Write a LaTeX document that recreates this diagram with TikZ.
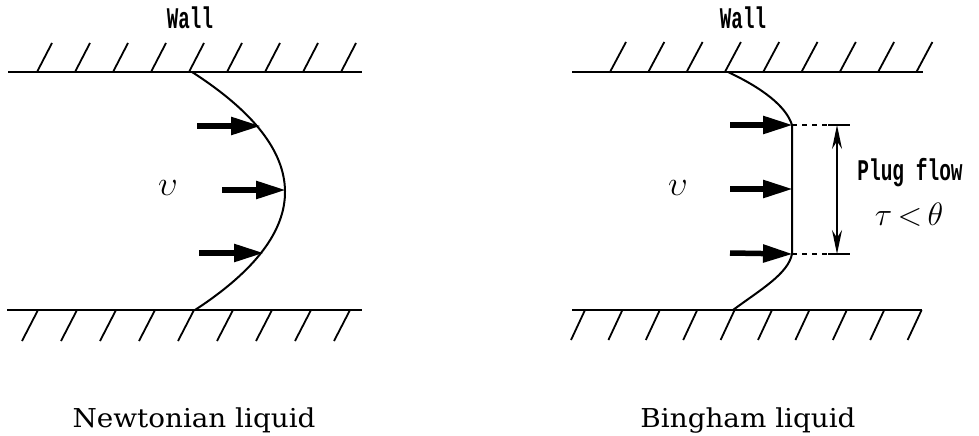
\documentclass[tikz,border=0pt]{standalone}
\usepackage{fontspec}
\usepackage{graphicx}
\usetikzlibrary{arrows.meta}
\newfontfamily\capfont{DejaVu Serif}
\newfontfamily\labfont{Liberation Mono}
\tikzset{
  wall/.style={line width=2.5pt},
  hatch/.style={line width=1.8pt},
  profile/.style={line width=2pt},
  flowarrow/.style={line width=5.5pt, -{Triangle[length=30pt,width=17pt]}, shorten >=-1pt},
  plugarrow/.style={line width=1.5pt, {Stealth[length=24pt,width=10pt]}-{Stealth[length=24pt,width=10pt]}},
  guide/.style={line width=1.5pt, dash pattern=on 5pt off 5pt},
  caption/.style={font=\capfont\fontsize{26}{30}\selectfont, inner sep=0pt, anchor=base},
  monolabel/.style={font=\labfont\bfseries\fontsize{30}{34}\selectfont, inner sep=0pt, anchor=base},
  mathlabel/.style={font=\fontsize{24.88}{30}\selectfont, inner sep=0pt, anchor=base},
}
\begin{document}
\begin{tikzpicture}[x=1pt,y=-1pt]
\useasboundingbox (0,0) rectangle (979,436);
% ---------------- Newtonian ----------------
\coordinate (LTl) at (8,72);  \coordinate (LTr) at (362,72);
\coordinate (LBl) at (7,310); \coordinate (LBr) at (362,310);
\draw[wall] (LTl) -- (LTr);
\draw[wall] (LBl) -- (LBr);
\foreach \i in {0,...,8} \draw[hatch] (37+38*\i,72) -- ++(15,-29);
\foreach \i in {0,...,8} \draw[hatch] (38+39*\i,310) -- ++(-16,31);
\coordinate (NA) at (192,72);
\coordinate (NB) at (195,310);
\draw[profile] (NA) .. controls (315,151) and (316,231) .. (NB);
\coordinate (n1s) at (197,126); \coordinate (n1e) at (260,126);
\coordinate (n2s) at (222,190); \coordinate (n2e) at (285,190);
\coordinate (n3s) at (199,253); \coordinate (n3e) at (263,253);
\draw[flowarrow] (n1s) -- (n1e);
\draw[flowarrow] (n2s) -- (n2e);
\draw[flowarrow] (n3s) -- (n3e);
\node[monolabel] (wallL) at (190,29) {\scalebox{0.64}[1]{Wall}};
\node[mathlabel] (vL) at (168,195) {\scalebox{1.4}{$\upsilon$}};
\node[caption] (capL) at (194,427) {\scalebox{1.07}[1]{Newtonian liquid}};
% ---------------- Bingham ----------------
\coordinate (RTl) at (572,72);  \coordinate (RTr) at (923,72);
\coordinate (RBl) at (572,310); \coordinate (RBr) at (922,310);
\draw[wall] (RTl) -- (RTr);
\draw[wall] (RBl) -- (RBr);
\foreach \i in {0,...,8} \draw[hatch] (610+38.3*\i,72) -- ++(16,-30);
\foreach \i in {0,...,9} \draw[hatch] (585+37.4*\i,310) -- ++(-14,30);
\coordinate (BA) at (728,72);
\coordinate (P1) at (792,125);
\coordinate (P2) at (792,254);
\coordinate (BB) at (733,310);
\draw[profile] (BA) .. controls (762,88) and (786,106) .. (P1) -- (P2)
  .. controls (788,274) and (760,290) .. (BB);
\coordinate (b1s) at (730,125); \coordinate (b2s) at (730,189); \coordinate (b3s) at (730,253);
\coordinate (b2e) at (792,189);
\draw[flowarrow] (b1s) -- (P1);
\draw[flowarrow] (b2s) -- (b2e);
\draw[flowarrow] (b3s) -- (P2);
\coordinate (D1) at (850,125); \coordinate (D2) at (850,254);
\coordinate (A1) at (837,125); \coordinate (A2) at (837,254);
\draw[guide] (P1) -- (D1);
\draw[guide] (P2) -- (D2);
\draw[line width=1.5pt] (828,125) -- (D1);
\draw[line width=1.5pt] (828,254) -- (D2);
\draw[plugarrow] (A1) -- (A2);
\node[monolabel] (wallR) at (743,29) {\scalebox{0.64}[1]{Wall}};
\node[monolabel] (plug) at (910,180) {\scalebox{0.65}[1]{Plug flow}};
\node[mathlabel] (cond) at (909,225) {\scalebox{1.3}{$\tau\mkern-2mu<\mkern-2mu\theta$}};
\node[mathlabel] (vR) at (678,195) {\scalebox{1.4}{$\upsilon$}};
\node[caption] (capR) at (748,427) {\scalebox{1.07}[1]{Bingham liquid}};
\end{tikzpicture}
\end{document}
